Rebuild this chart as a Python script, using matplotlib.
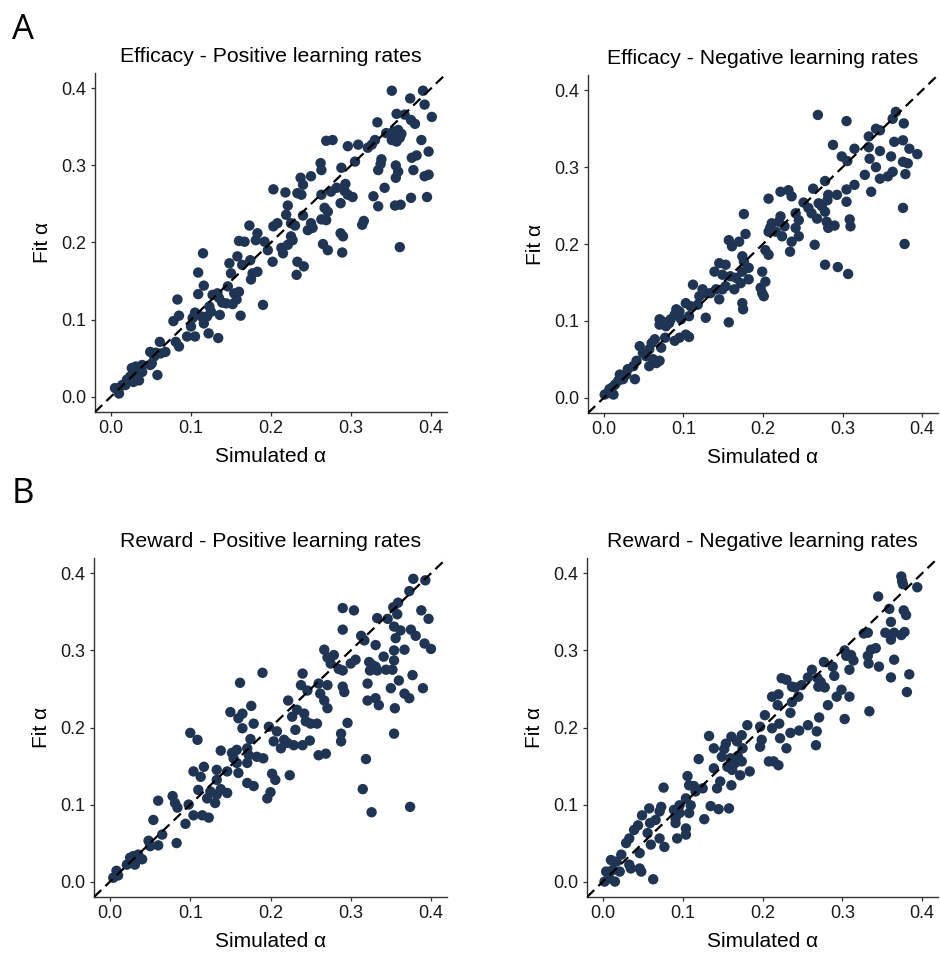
import matplotlib
matplotlib.use("Agg")
import matplotlib.pyplot as plt

plt.rcParams['font.family'] = ['Liberation Sans', 'DejaVu Sans']

titles = ["Efficacy - Positive learning rates", "Efficacy - Negative learning rates",
          "Reward - Positive learning rates", "Reward - Negative learning rates"]
ticks = [0.0, 0.1, 0.2, 0.3, 0.4]
tick_labels = ["0.0", "0.1", "0.2", "0.3", "0.4"]
xlabel = "Simulated α"
ylabel = "Fit α"

# Efficacy - positive
eff_pos_sim = [0.351,0.390,0.374,0.392,0.401,0.357,0.367,0.375,0.380,0.333,0.344,0.353,0.359,0.361,0.351,0.357,0.363,0.388,0.330,0.326,
 0.321,0.309,0.296,0.269,0.277,0.397,0.382,0.376,0.338,0.337,0.334,0.305,0.288,0.356,0.359,0.378,0.356,0.392,0.397,0.342,
 0.328,0.334,0.355,0.362,0.375,0.395,0.361,0.316,0.314,0.287,0.290,0.289,0.265,0.271,0.293,0.292,0.296,0.287,0.302,0.282,
 0.275,0.263,0.271,0.267,0.263,0.269,0.252,0.246,0.250,0.262,0.263,0.250,0.237,0.240,0.233,0.238,0.203,0.218,0.221,0.219,
 0.240,0.225,0.230,0.208,0.203,0.225,0.227,0.221,0.213,0.215,0.202,0.183,0.181,0.192,0.173,0.160,0.167,0.196,0.233,0.241,
 0.232,0.174,0.177,0.183,0.175,0.158,0.164,0.148,0.150,0.160,0.157,0.152,0.146,0.144,0.133,0.135,0.127,0.123,0.120,0.115,
 0.109,0.116,0.109,0.125,0.136,0.134,0.122,0.116,0.113,0.105,0.102,0.100,0.105,0.095,0.083,0.085,0.078,0.081,0.085,0.061,
 0.068,0.062,0.056,0.049,0.054,0.051,0.058,0.049,0.039,0.035,0.031,0.026,0.039,0.033,0.024,0.020,0.028,0.035,0.018,0.010,
 0.005,0.010,0.014,0.162,0.190,0.139,0.154]
eff_pos_fit = [0.397,0.397,0.387,0.379,0.363,0.367,0.366,0.359,0.354,0.356,0.342,0.344,0.346,0.336,0.333,0.331,0.341,0.333,0.333,0.327,
 0.323,0.327,0.325,0.332,0.333,0.318,0.313,0.310,0.308,0.302,0.294,0.305,0.297,0.300,0.292,0.294,0.284,0.286,0.288,0.271,
 0.260,0.247,0.248,0.249,0.258,0.259,0.194,0.228,0.223,0.212,0.208,0.187,0.198,0.190,0.276,0.267,0.262,0.251,0.259,0.271,
 0.266,0.262,0.240,0.245,0.230,0.229,0.219,0.216,0.225,0.303,0.294,0.286,0.284,0.275,0.264,0.262,0.269,0.265,0.248,0.236,
 0.235,0.225,0.222,0.225,0.221,0.208,0.203,0.197,0.193,0.186,0.175,0.212,0.203,0.201,0.222,0.202,0.201,0.190,0.175,0.169,
 0.158,0.177,0.160,0.162,0.152,0.182,0.171,0.173,0.160,0.136,0.126,0.120,0.143,0.121,0.134,0.128,0.132,0.117,0.104,0.186,
 0.161,0.144,0.133,0.110,0.106,0.076,0.082,0.095,0.104,0.109,0.102,0.091,0.078,0.078,0.126,0.105,0.098,0.071,0.065,0.071,
 0.058,0.056,0.057,0.058,0.052,0.043,0.028,0.041,0.041,0.037,0.039,0.037,0.032,0.028,0.026,0.022,0.019,0.021,0.015,0.011,
 0.011,0.004,0.015,0.105,0.119,0.122,0.134]

# Efficacy - negative
eff_neg_sim = [0.269,0.305,0.367,0.363,0.377,0.342,0.347,0.333,0.365,0.376,0.288,0.315,0.333,0.347,0.384,0.394,0.361,0.299,0.306,0.334,
 0.376,0.382,0.342,0.363,0.357,0.347,0.328,0.379,0.336,0.278,0.263,0.315,0.305,0.293,0.282,0.281,0.305,0.270,0.274,0.278,
 0.257,0.261,0.268,0.280,0.290,0.282,0.309,0.310,0.376,0.378,0.265,0.278,0.294,0.307,0.207,0.222,0.232,0.236,0.251,0.241,
 0.245,0.222,0.220,0.211,0.209,0.207,0.216,0.224,0.241,0.245,0.236,0.234,0.203,0.207,0.227,0.176,0.178,0.157,0.161,0.170,
 0.174,0.176,0.182,0.145,0.153,0.139,0.149,0.159,0.166,0.174,0.182,0.172,0.164,0.153,0.149,0.141,0.134,0.145,0.124,0.128,
 0.120,0.112,0.118,0.109,0.103,0.095,0.091,0.089,0.084,0.082,0.074,0.070,0.070,0.078,0.097,0.107,0.128,0.157,0.174,0.175,
 0.199,0.203,0.197,0.199,0.201,0.103,0.107,0.095,0.089,0.077,0.072,0.064,0.060,0.057,0.053,0.045,0.049,0.062,0.070,0.066,
 0.057,0.041,0.037,0.030,0.028,0.024,0.020,0.039,0.014,0.007,0.005,0.012,0.001,0.010,0.018]
eff_neg_fit = [0.368,0.360,0.372,0.363,0.357,0.350,0.348,0.340,0.333,0.335,0.329,0.324,0.326,0.321,0.324,0.317,0.314,0.314,0.308,0.311,
 0.307,0.305,0.300,0.294,0.288,0.285,0.290,0.291,0.268,0.282,0.272,0.277,0.271,0.264,0.264,0.257,0.255,0.253,0.249,0.242,
 0.247,0.240,0.233,0.229,0.224,0.221,0.232,0.223,0.247,0.200,0.199,0.173,0.170,0.161,0.259,0.268,0.270,0.262,0.254,0.240,
 0.231,0.236,0.229,0.227,0.221,0.216,0.216,0.210,0.221,0.210,0.203,0.190,0.192,0.186,0.223,0.239,0.213,0.205,0.197,0.203,
 0.184,0.177,0.169,0.175,0.173,0.164,0.160,0.158,0.156,0.164,0.154,0.149,0.141,0.145,0.141,0.141,0.136,0.128,0.141,0.136,
 0.132,0.147,0.121,0.119,0.123,0.112,0.115,0.108,0.102,0.097,0.099,0.102,0.095,0.093,0.102,0.106,0.104,0.098,0.123,0.115,
 0.164,0.151,0.143,0.136,0.132,0.082,0.079,0.078,0.074,0.078,0.065,0.076,0.071,0.063,0.054,0.067,0.058,0.050,0.048,0.045,
 0.041,0.048,0.041,0.037,0.030,0.024,0.030,0.024,0.017,0.011,0.006,0.004,0.004,0.013,0.022]

# Reward - positive
rew_pos_sim = [0.378,0.393,0.373,0.359,0.353,0.333,0.346,0.358,0.388,0.397,0.290,0.304,0.290,0.313,0.317,0.354,0.362,0.356,0.375,0.381,
 0.392,0.400,0.331,0.341,0.354,0.367,0.354,0.300,0.306,0.267,0.271,0.279,0.275,0.285,0.290,0.323,0.327,0.331,0.324,0.333,
 0.344,0.352,0.377,0.360,0.350,0.390,0.367,0.373,0.321,0.331,0.321,0.335,0.355,0.290,0.292,0.240,0.238,0.246,0.260,0.271,
 0.262,0.267,0.271,0.190,0.162,0.176,0.150,0.165,0.160,0.179,0.165,0.198,0.208,0.204,0.217,0.213,0.221,0.229,0.240,0.249,
 0.222,0.233,0.242,0.227,0.244,0.250,0.258,0.231,0.296,0.288,0.288,0.260,0.269,0.319,0.354,0.315,0.326,0.374,0.100,0.109,
 0.138,0.152,0.158,0.154,0.175,0.171,0.173,0.183,0.191,0.158,0.171,0.160,0.146,0.133,0.117,0.104,0.113,0.133,0.171,0.179,
 0.202,0.206,0.224,0.200,0.196,0.146,0.138,0.133,0.125,0.121,0.110,0.131,0.098,0.104,0.115,0.123,0.078,0.081,0.084,0.060,
 0.094,0.054,0.065,0.060,0.048,0.050,0.083,0.035,0.040,0.029,0.025,0.021,0.031,0.008,0.004,0.010]
rew_pos_fit = [0.393,0.391,0.377,0.362,0.356,0.342,0.341,0.347,0.352,0.341,0.355,0.352,0.327,0.319,0.313,0.331,0.326,0.316,0.327,0.319,
 0.309,0.302,0.307,0.292,0.300,0.301,0.287,0.283,0.288,0.301,0.291,0.294,0.283,0.276,0.274,0.285,0.281,0.279,0.274,0.274,
 0.275,0.275,0.268,0.261,0.251,0.251,0.244,0.238,0.257,0.238,0.235,0.229,0.225,0.253,0.246,0.270,0.255,0.248,0.257,0.255,
 0.244,0.235,0.225,0.271,0.258,0.228,0.220,0.218,0.212,0.205,0.199,0.201,0.195,0.182,0.184,0.173,0.180,0.177,0.177,0.183,
 0.235,0.223,0.218,0.214,0.208,0.205,0.205,0.197,0.206,0.192,0.182,0.164,0.166,0.159,0.192,0.120,0.090,0.097,0.193,0.184,
 0.170,0.167,0.171,0.160,0.185,0.173,0.164,0.162,0.160,0.154,0.154,0.141,0.143,0.145,0.149,0.143,0.136,0.132,0.128,0.124,
 0.140,0.132,0.138,0.116,0.108,0.115,0.120,0.113,0.117,0.108,0.119,0.102,0.100,0.086,0.086,0.083,0.111,0.102,0.096,0.105,
 0.075,0.080,0.061,0.047,0.053,0.046,0.050,0.035,0.029,0.033,0.031,0.022,0.022,0.014,0.005,0.008]

# Reward - negative
rew_neg_sim = [0.374,0.375,0.376,0.394,0.345,0.359,0.377,0.380,0.361,0.354,0.365,0.361,0.374,0.378,0.327,0.332,0.336,0.342,0.332,0.333,
 0.346,0.365,0.361,0.384,0.381,0.334,0.303,0.305,0.311,0.314,0.309,0.277,0.288,0.290,0.262,0.257,0.269,0.273,0.270,0.278,
 0.293,0.299,0.309,0.303,0.282,0.271,0.268,0.267,0.257,0.246,0.235,0.224,0.230,0.237,0.241,0.249,0.245,0.237,0.235,0.212,
 0.220,0.219,0.221,0.212,0.203,0.197,0.199,0.197,0.208,0.214,0.220,0.222,0.230,0.181,0.174,0.168,0.161,0.154,0.152,0.175,
 0.169,0.174,0.166,0.160,0.149,0.156,0.162,0.172,0.184,0.133,0.139,0.120,0.139,0.106,0.108,0.114,0.116,0.125,0.147,0.143,
 0.161,0.104,0.110,0.096,0.089,0.096,0.108,0.091,0.091,0.104,0.104,0.093,0.127,0.135,0.145,0.158,0.076,0.073,0.071,0.058,
 0.066,0.059,0.056,0.060,0.071,0.077,0.049,0.044,0.039,0.033,0.029,0.046,0.023,0.017,0.010,0.021,0.012,0.004,0.008,0.015,
 0.002,0.033,0.035,0.046,0.048,0.063]
rew_neg_fit = [0.396,0.390,0.386,0.382,0.370,0.354,0.352,0.346,0.337,0.323,0.323,0.314,0.320,0.324,0.322,0.323,0.301,0.303,0.293,0.283,
 0.279,0.288,0.265,0.269,0.246,0.221,0.300,0.293,0.294,0.287,0.275,0.285,0.279,0.267,0.275,0.265,0.264,0.259,0.253,0.252,
 0.240,0.249,0.240,0.211,0.229,0.213,0.195,0.177,0.203,0.196,0.193,0.264,0.262,0.253,0.252,0.255,0.240,0.233,0.219,0.240,
 0.243,0.229,0.205,0.199,0.216,0.201,0.184,0.175,0.156,0.156,0.151,0.186,0.173,0.203,0.190,0.182,0.188,0.179,0.172,0.173,
 0.163,0.156,0.154,0.160,0.162,0.149,0.145,0.138,0.143,0.189,0.173,0.159,0.147,0.137,0.125,0.124,0.117,0.121,0.130,0.121,
 0.125,0.108,0.099,0.099,0.093,0.089,0.089,0.082,0.076,0.069,0.061,0.056,0.081,0.098,0.094,0.095,0.122,0.097,0.091,0.095,
 0.080,0.076,0.063,0.048,0.056,0.045,0.086,0.073,0.067,0.056,0.050,0.037,0.035,0.026,0.028,0.013,0.015,0.013,0.004,0.000,
 0.000,0.022,0.017,0.017,0.013,0.003]

panels = [(eff_pos_sim, eff_pos_fit), (eff_neg_sim, eff_neg_fit),
          (rew_pos_sim, rew_pos_fit), (rew_neg_sim, rew_neg_fit)]

W, H = 940, 957
fig = plt.figure(figsize=(W / 100, H / 100), dpi=100)

boxes = [(95, 73, 447, 412), (588, 75, 938, 413), (94, 558, 447, 897), (587, 558, 938, 897)]
point_color = '#1f3553'

for (sim, fit), title, (l, t, r, b) in zip(panels, titles, boxes):
    ax = fig.add_axes([l / W, 1 - b / H, (r - l) / W, (b - t) / H])
    ax.axline((0, 0), slope=1, color='black', lw=1.6, dashes=(4.5, 2.6), zorder=3)
    ax.scatter(sim, fit, s=56, color=point_color, edgecolors='none', zorder=2)
    ax.set_xlim(-0.02, 0.42)
    ax.set_ylim(-0.02, 0.42)
    ax.set_xticks(ticks)
    ax.set_xticklabels(tick_labels)
    ax.set_yticks(ticks)
    ax.set_yticklabels(tick_labels)
    for s in ['top', 'right']:
        ax.spines[s].set_visible(False)
    for s in ['left', 'bottom']:
        ax.spines[s].set_color('#333333')
        ax.spines[s].set_linewidth(1.0)
    ax.tick_params(axis='both', length=3, width=0.9, color='#333333',
                   labelsize=13, labelcolor='#1a1a1a', pad=3)
    ax.set_title(title, fontsize=15.3, pad=8)
    ax.set_xlabel(xlabel, fontsize=15, labelpad=7)
    ax.set_ylabel(ylabel, fontsize=15, labelpad=7)

fig.text(12 / W, 1 - 39 / H, "A", fontsize=25, family=['Open Sans', 'DejaVu Sans'], ha='left', va='baseline')
fig.text(12 / W, 1 - 503 / H, "B", fontsize=25, family=['Open Sans', 'DejaVu Sans'], ha='left', va='baseline')

fig.savefig("out.png", dpi=100)
